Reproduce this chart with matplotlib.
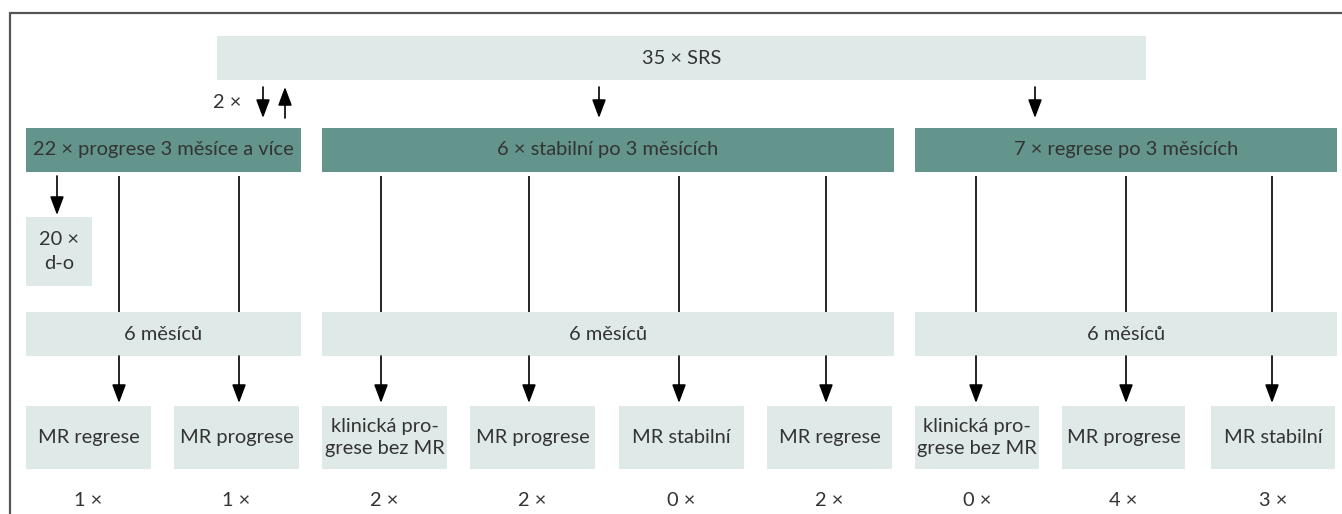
import matplotlib
matplotlib.use('Agg')
import matplotlib.pyplot as plt
from matplotlib.patches import Rectangle, FancyArrowPatch

# ---- data ----
top_label = "35 × SRS"
back_label = "2 ×"
group_labels = ["22 × progrese 3 měsíce a více",
                "6 × stabilní po 3 měsících",
                "7 × regrese po 3 měsících"]
dropout_label = "20 ×\nd-o"
interval_label = "6 měsíců"
outcome_labels = ["MR regrese", "MR progrese",
                  "klinická pro-\ngrese bez MR", "MR progrese", "MR stabilní", "MR regrese",
                  "klinická pro-\ngrese bez MR", "MR progrese", "MR stabilní"]
outcome_counts = [1, 1, 2, 2, 0, 2, 0, 4, 3]

# ---- style ----
W, H = 1342, 514
GREEN = "#64958c"
LIGHT = "#dfe9e7"
TXT = "#333333"
FONT = ["Lato", "DejaVu Sans"]
FS = 14.4
WEIGHT = 'normal'

fig = plt.figure(figsize=(W / 100, H / 100), dpi=100)
ax = fig.add_axes([0, 0, 1, 1])
ax.set_xlim(0, W)
ax.set_ylim(H, 0)
ax.axis('off')


def label(x, y, text, ls=1.15):
    ax.text(x, y, text, ha='center', va='center', fontsize=FS, color=TXT,
            family=FONT, weight=WEIGHT, linespacing=ls)


def box(x0, y0, x1, y1, color, text=None, ls=1.15):
    ax.add_patch(Rectangle((x0, y0), x1 - x0, y1 - y0, facecolor=color, edgecolor='none'))
    if text is not None:
        label((x0 + x1) / 2, (y0 + y1) / 2, text, ls)


def arrow(x, y0, y1):
    ax.add_patch(FancyArrowPatch((x, y0), (x, y1), arrowstyle='-|>,head_length=0.8,head_width=0.3',
                                 mutation_scale=14, color='black', lw=1.2,
                                 shrinkA=0, shrinkB=0))


def vline(x, y0, y1):
    ax.plot([x, x], [y0, y1], color='black', lw=1.2, solid_capstyle='butt')


# frame
ax.plot([9.5, 9.5, W], [H, 13, 13], color='#555555', lw=1.6, solid_joinstyle='miter')

# top box
box(217, 36, 1146, 80, LIGHT, top_label)

# arrows from top
arrow(263, 87, 118)
arrow(285, 118, 87)
label(227, 103, back_label)
arrow(599, 87, 118)
arrow(1035, 87, 118)

# group boxes
group_x = [(26, 301), (322, 894), (915, 1337)]
for (x0, x1), lab in zip(group_x, group_labels):
    box(x0, 128, x1, 172, GREEN, lab)
    box(x0, 312, x1, 356, LIGHT, interval_label)

# dropout
arrow(57, 176, 215)
box(26, 217, 92, 286, LIGHT, dropout_label, ls=1.5)

# outcomes
out_x = [(26, 151), (174, 299), (322, 447), (470, 595), (619, 744), (767, 892),
         (915, 1039), (1062, 1185), (1211, 1335)]
line_x = [119, 239, 381, 529, 679, 826, 976, 1126, 1272]
for (x0, x1), lx, lab, n in zip(out_x, line_x, outcome_labels, outcome_counts):
    vline(lx, 176, 312)
    arrow(lx, 356, 403)
    box(x0, 406, x1, 469, LIGHT, lab, ls=1.3)
    label((x0 + x1) / 2, 500, f"{n} ×")

fig.savefig('out.png', dpi=100)
